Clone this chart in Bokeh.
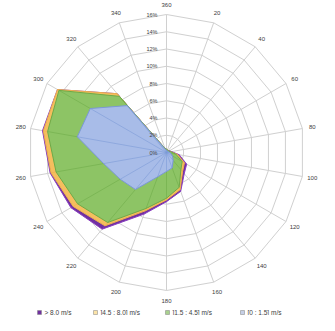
import numpy as np
from bokeh.plotting import figure
from bokeh.models import Range1d, ColumnDataSource
from bokeh.embed import file_html
from bokeh.resources import INLINE
from bokeh.core.properties import value

# ---------------- data ----------------
directions = [360, 20, 40, 60, 80, 100, 120, 140, 160, 180, 200, 220, 240, 260, 280, 300, 320, 340]
direction_labels = ["360", "20", "40", "60", "80", "100", "120", "140", "160", "180",
                    "200", "220", "240", "260", "280", "300", "320", "340"]
# frequency (%) per speed class and direction
freq_0_15 = [0.3, 0.2, 0.2, 0.2, 0.3, 0.5, 0.8, 1.2, 1.9, 2.2, 3.0, 5.6, 6.2, 7.4, 10.5, 10.2, 7.1, 0.4]
freq_15_45 = [0.1, 0.1, 0.1, 0.1, 0.2, 0.6, 1.3, 1.4, 2.4, 3.1, 3.9, 5.0, 5.7, 5.6, 3.5, 4.2, 1.4, 0.1]
freq_45_80 = [0.0, 0.0, 0.0, 0.0, 0.0, 0.2, 0.3, 0.3, 0.3, 0.2, 0.3, 0.5, 0.6, 0.6, 0.5, 0.2, 0.4, 0.0]
freq_gt_80 = [0.0, 0.0, 0.0, 0.1, 0.1, 0.2, 0.3, 0.3, 0.2, 0.2, 0.4, 0.5, 0.3, 0.1, 0.1, 0.0, 0.0, 0.0]
ring_values = [0, 2, 4, 6, 8, 10, 12, 14, 16]
ring_labels = ["0%", "2%", "4%", "6%", "8%", "10%", "12%", "14%", "16%"]
series_names = ["> 8,0 m/s", "]4,5 : 8,0] m/s", "]1,5 : 4,5] m/s", "[0 : 1,5] m/s"]

# ---------------- styles ----------------
fills = ["#7030A0", "#F5BE5E", "#8DC465", "#A8BCE8"]
edges = ["#8A3FC0", "#EDB04E", "#6DAA48", "#7B98D6"]
legend_fills = ["#7030A0", "#FBE3A8", "#A9D18E", "#C5CFE6"]
GRID = "#D0D0D0"
TXT = "#404040"
FONT = "Liberation Sans"

W, H = 319, 315
PX = 8.625            # pixels per 1 %
CX, CY = 166, 152     # centre in figure pixels (from top-left)

def dx(px):
    return (px - CX) / PX

def dy(py):
    return (CY - py) / PX

p = figure(width=W, height=H, output_backend="svg", toolbar_location=None,
           x_range=Range1d(dx(0), dx(W)), y_range=Range1d(dy(H), dy(0)),
           x_axis_type=None, y_axis_type=None, min_border=0,
           outline_line_color=None, background_fill_color="white")
p.grid.visible = False

theta = np.radians(np.array(directions, dtype=float))
sx, cy = np.sin(theta), np.cos(theta)
rmax = ring_values[-1]

# ---------------- grid ----------------
ring_xs, ring_ys = [], []
for r in ring_values[1:]:
    ring_xs.append(list(np.append(r * sx, r * sx[0])))
    ring_ys.append(list(np.append(r * cy, r * cy[0])))
p.multi_line(ring_xs, ring_ys, line_color=GRID, line_width=1)
p.multi_line([[0, rmax * a] for a in sx], [[0, rmax * b] for b in cy],
             line_color=GRID, line_width=1)

# ---------------- stacked filled radar ----------------
layers = [freq_0_15, freq_15_45, freq_45_80, freq_gt_80]
cum = np.cumsum(np.array(layers), axis=0)   # cum[0]=blue, cum[3]=total
order = [3, 2, 1, 0]                          # draw total first
for k, idx in enumerate(order):
    r = cum[idx]
    xs = r * sx
    ys = r * cy
    p.patch(list(xs), list(ys), fill_color=fills[k], fill_alpha=1.0,
            line_color=edges[k], line_width=1)
    p.multi_line([[0, a] for a in xs], [[0, b] for b in ys],
                 line_color=edges[k], line_width=0.8, line_alpha=0.7)

# ---------------- labels ----------------
lab_r = 148 / PX
p.text(x=list(lab_r * sx), y=list(lab_r * cy), text=direction_labels,
       text_font=value(FONT), text_font_size="6px", text_color=TXT,
       text_align="center", text_baseline="middle")
p.text(x=[dx(CX - 9)] * len(ring_values), y=ring_values, text=ring_labels,
       text_font=value(FONT), text_font_size="5.5px", text_color=TXT,
       text_align="right", text_baseline="middle")

# ---------------- legend ----------------
mark_px = [39, 95, 167, 242]
ly = dy(312)
src = ColumnDataSource(dict(x=[dx(m) for m in mark_px], y=[ly] * 4,
                            c=legend_fills, t=series_names,
                            tx=[dx(m + 5) for m in mark_px]))
p.rect(x="x", y="y", width=4 / PX, height=4 / PX, fill_color="c",
       line_color="#808080", line_width=0.5, source=src)
p.text(x="tx", y="y", text="t", text_font=value(FONT), text_font_size="6.5px",
       text_color=TXT, text_align="left", text_baseline="middle", source=src)

open("out.html", "w").write(file_html(p, INLINE))
